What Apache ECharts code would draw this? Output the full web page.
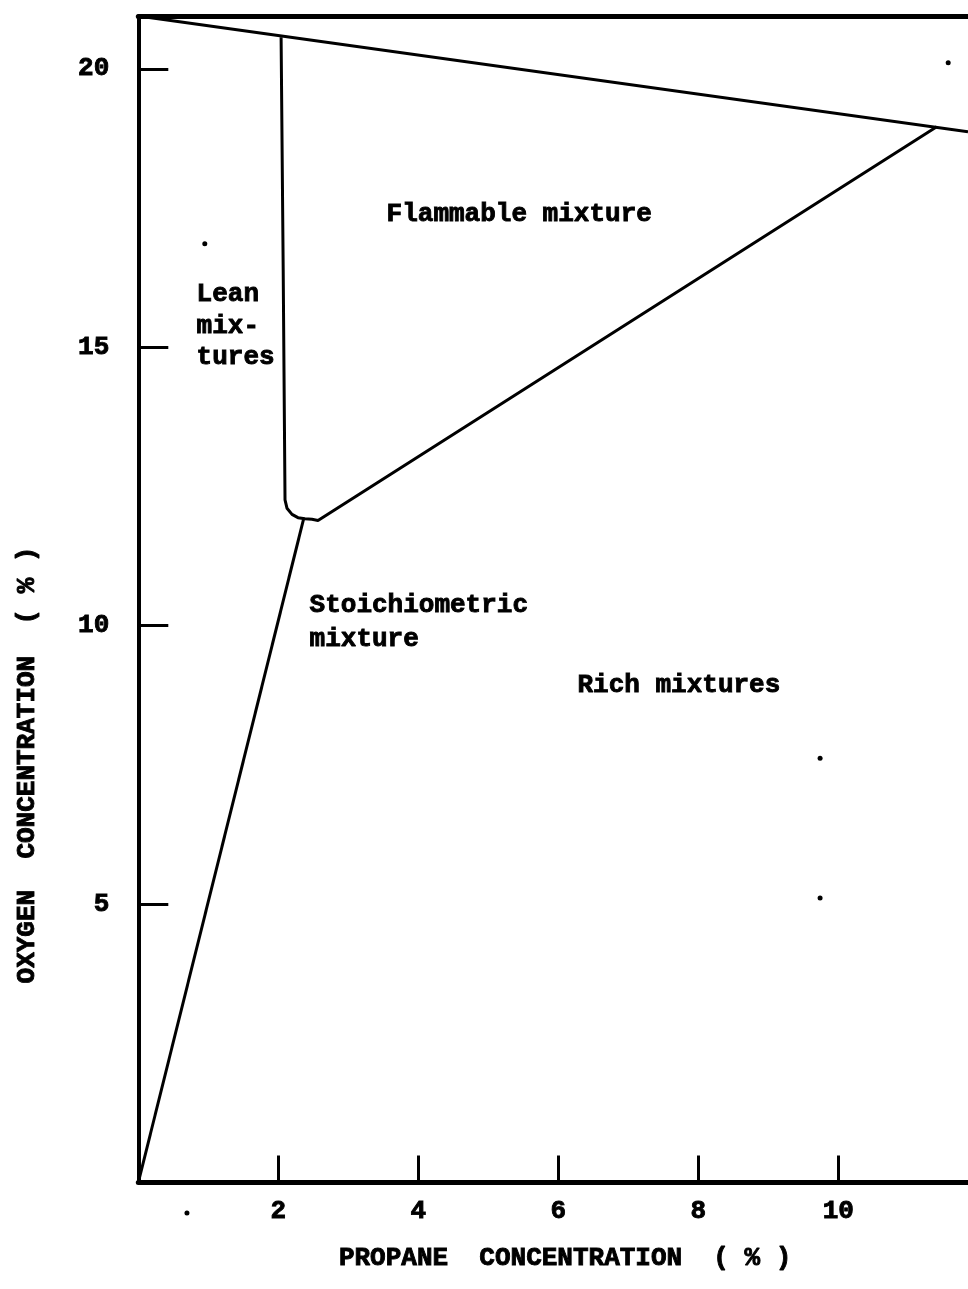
<!DOCTYPE html>
<html>
<head>
<meta charset="utf-8">
<script src="https://cdn.jsdelivr.net/npm/echarts@6/dist/echarts.min.js"></script>
<style>
  html, body { margin: 0; padding: 0; background: #fff; }
  #chart { width: 968px; height: 1289px; }
</style>
</head>
<body>
<div id="chart"></div>
<script>
// propane / oxygen flammability diagram
const xTicks = [2, 4, 6, 8, 10]
const yTicks = [5, 10, 15, 20]

// air dilution line (top)
const airX = [0, 11.853]
const airY = [20.95, 18.87]

// lean limit, rounded nose, then rich (upper) limit
const limitX = [2.04, 2.07, 2.096, 2.124, 2.196, 2.281, 2.381, 2.481, 2.567, 11.406]
const limitY = [20.57, 16.39, 12.26, 12.11, 12.0, 11.94, 11.92, 11.91, 11.89, 18.96]

// stoichiometric line
const stoichX = [0, 2.36]
const stoichY = [0, 11.91]

// region labels (data coords of left / middle)
const labelText = ["Flammable mixture", "Lean\nmix-\ntures", "Stoichiometric\nmixture", "Rich mixtures"]
const labelX = [3.54, 0.826, 2.44, 6.267]
const labelY = [17.39, 15.38, 10.05, 8.92]
const labelLineHeight = [30, 31.5, 34, 30]

// small specks on the scan
const speckX = [0.95, 9.74, 9.74, 11.57, 0.695]
const speckY = [16.86, 7.62, 5.11, 20.11, -0.55]

const FONT = '"Liberation Mono", "DejaVu Sans Mono", monospace'
const INK = "#000"

// heavy typewriter look
const textStyle = {
  color: INK,
  fontFamily: FONT,
  fontWeight: "bold",
  fontSize: 26,
  textBorderColor: INK,
  textBorderWidth: 0.9
}

const pairs = (xs, ys) => xs.map((x, i) => [x, ys[i]])

const chart = echarts.init(document.getElementById("chart"))

const lineSeries = (name, xs, ys) => ({
  name: name,
  type: "line",
  symbol: "none",
  smooth: false,
  lineStyle: { color: INK, width: 3 },
  data: pairs(xs, ys),
  z: 3
})

const options = {
  animation: false,
  backgroundColor: "#fff",
  grid: {
    left: 138.3,
    right: 0,
    top: 16,
    bottom: 106.5
  },
  xAxis: [
    {
      type: "value",
      min: 0,
      max: 11.853,
      interval: 2,
      axisLine: { lineStyle: { color: INK, width: 5 } },
      axisTick: {
        inside: true,
        length: 27,
        customValues: xTicks,
        lineStyle: { color: INK, width: 3 }
      },
      axisLabel: Object.assign({ customValues: xTicks, margin: 16 }, textStyle),
      splitLine: { show: false },
      name: "PROPANE  CONCENTRATION  ( % )",
      nameLocation: "middle",
      nameGap: 63,
      nameTextStyle: Object.assign({ padding: [0, 0, 0, 24] }, textStyle)
    },
    {
      // top frame line
      type: "value",
      position: "top",
      min: 0,
      max: 11.853,
      axisLine: { show: true, lineStyle: { color: INK, width: 5 } },
      axisTick: { show: false },
      axisLabel: { show: false },
      splitLine: { show: false }
    }
  ],
  yAxis: {
    type: "value",
    min: 0,
    max: 20.95,
    interval: 5,
    axisLine: { show: true, lineStyle: { color: INK, width: 4 } },
    axisTick: {
      show: true,
      inside: true,
      length: 30,
      customValues: yTicks,
      lineStyle: { color: INK, width: 3 }
    },
    axisLabel: Object.assign({ customValues: yTicks, margin: 29 }, textStyle),
    splitLine: { show: false }
  },
  graphic: [
    {
      type: "text",
      x: 27,
      y: 765,
      rotation: Math.PI / 2,
      style: {
        text: "OXYGEN  CONCENTRATION  ( % )",
        fill: INK,
        stroke: INK,
        lineWidth: 0.9,
        font: "bold 26px " + FONT,
        align: "center",
        verticalAlign: "middle"
      }
    }
  ],
  series: [
    lineSeries("Air", airX, airY),
    lineSeries("Limits", limitX, limitY),
    lineSeries("Stoichiometric", stoichX, stoichY),
    {
      name: "Labels",
      type: "scatter",
      symbolSize: 1,
      itemStyle: { color: "rgba(0,0,0,0)", opacity: 1 },
      data: labelText.map((t, i) => ({
        value: [labelX[i], labelY[i]],
        label: Object.assign({
          show: true,
          formatter: t,
          position: "right",
          distance: 0,
          align: "left",
          verticalAlign: "middle",
          opacity: 1,
          lineHeight: labelLineHeight[i]
        }, textStyle)
      })),
      z: 4
    },
    {
      name: "Specks",
      type: "scatter",
      symbol: "circle",
      symbolSize: 5,
      clip: false,
      itemStyle: { color: INK, opacity: 1 },
      data: pairs(speckX, speckY)
    }
  ]
}

chart.setOption(options)
</script>
</body>
</html>
